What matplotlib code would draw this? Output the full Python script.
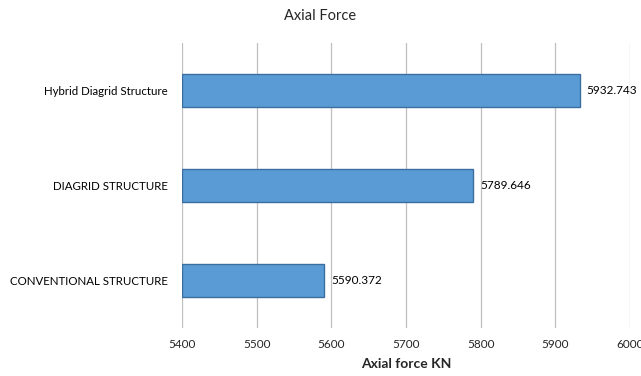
import matplotlib
matplotlib.use("Agg")
import matplotlib.pyplot as plt

plt.rcParams['font.family'] = ['Lato', 'DejaVu Sans']

# data
categories = ["CONVENTIONAL STRUCTURE", "DIAGRID STRUCTURE", "Hybrid Diagrid Structure"]
values = [5590.372, 5789.646, 5932.743]
labels = ["5590.372", "5789.646", "5932.743"]
x_ticks = [5400, 5500, 5600, 5700, 5800, 5900, 6000]

fig = plt.figure(figsize=(6.41, 3.76), dpi=100)
# axes box: 182..630 px wide, 43..328 px tall
ax = fig.add_axes([182 / 641, 1 - 328 / 376, 448 / 641, 285 / 376])

base = 5400
ax.barh(range(len(categories)), [v - base for v in values], left=base, height=0.35,
        color="#5B9BD5", edgecolor="#3A6EA0", linewidth=1.0, zorder=3)

for i, (v, lab) in enumerate(zip(values, labels)):
    ax.annotate(lab, (v, i), xytext=(5, 0), textcoords="offset points",
                va="center", ha="left", fontsize=8.5, color="#000000")

ax.set_xlim(5400, 6000)
ax.set_ylim(-0.5, 2.5)
ax.set_xticks(x_ticks)
ax.set_xticklabels([str(t) for t in x_ticks], fontsize=8.5, color="#262626")
ax.set_yticks(range(len(categories)))
ax.set_yticklabels(categories, fontsize=8.3, color="#000000")
ax.tick_params(axis="x", length=0, pad=8)
ax.tick_params(axis="y", length=0, pad=10)

ax.grid(axis="x", color="#BFBFBF", linewidth=0.9, zorder=0)
for s in ax.spines.values():
    s.set_visible(False)

ax.set_xlabel("Axial force KN", fontsize=10, fontweight="bold", color="#262626", labelpad=6)
fig.suptitle("Axial Force", fontsize=10.5, color="#262626", y=0.975)

fig.savefig("out.png", dpi=100)
